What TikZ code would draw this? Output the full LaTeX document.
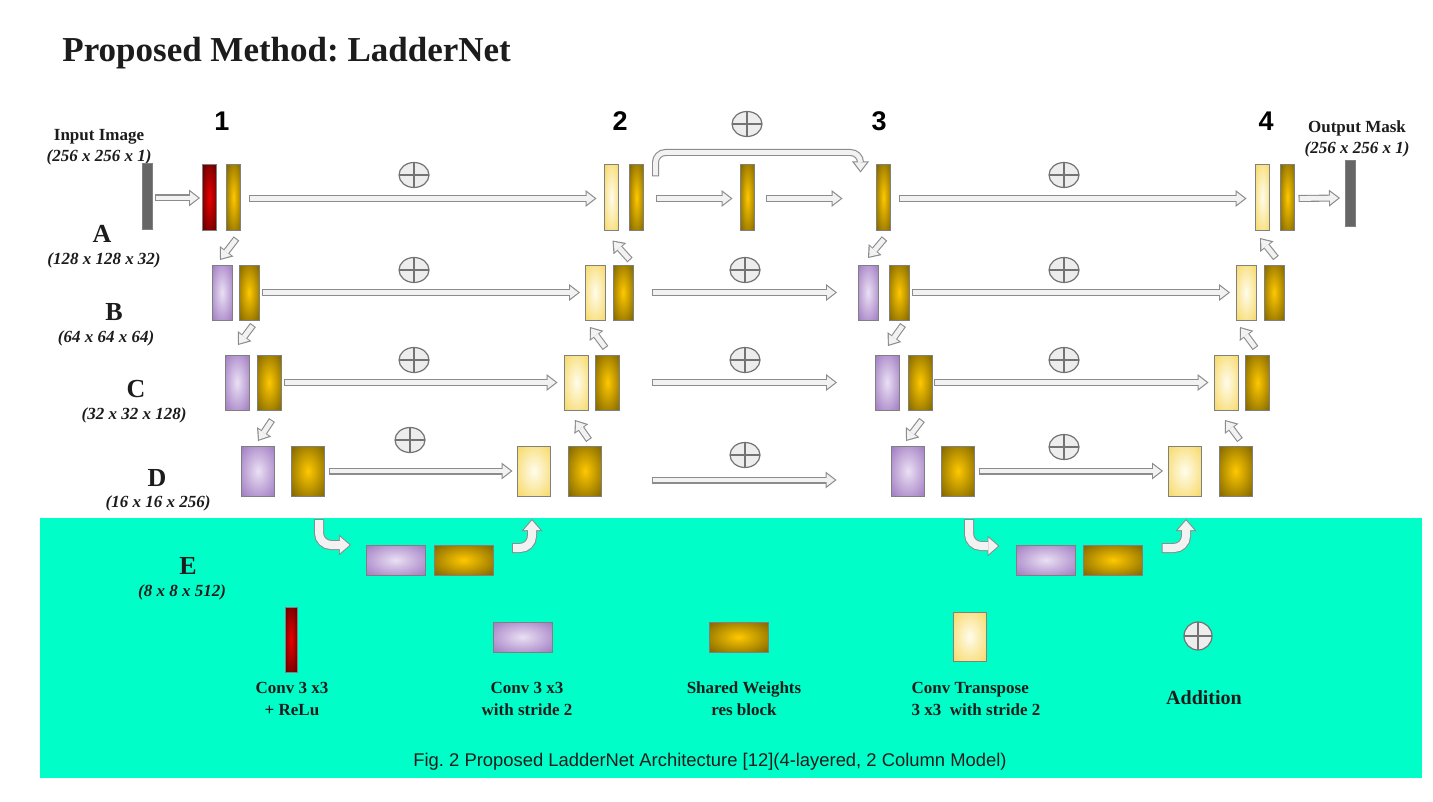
\documentclass[tikz,border=0pt]{standalone}
\usepackage{fontspec}
\setmainfont{Liberation Serif}
\newfontfamily\capfont{Liberation Sans}
\usetikzlibrary{positioning, arrows.meta, shapes.geometric, calc}

\definecolor{goldin}{RGB}{255,200,0}
\definecolor{goldout}{RGB}{118,94,0}
\definecolor{redin}{RGB}{235,0,0}
\definecolor{redout}{RGB}{96,0,0}
\definecolor{lilacin}{RGB}{234,224,244}
\definecolor{lilacout}{RGB}{155,115,190}
\definecolor{creamin}{RGB}{255,252,236}
\definecolor{creamout}{RGB}{246,214,92}
\definecolor{bandteal}{RGB}{0,255,200}
\definecolor{inkgray}{RGB}{28,28,28}

\pgfdeclareradialshading{goldglow}{\pgfpoint{0bp}{0bp}}{color(0bp)=(goldin); color(38bp)=(goldout); color(75bp)=(goldout)}
\pgfdeclareradialshading{redglow}{\pgfpoint{0bp}{0bp}}{color(0bp)=(redin); color(34bp)=(redout); color(75bp)=(redout)}
\pgfdeclareradialshading{lilacglow}{\pgfpoint{0bp}{0bp}}{color(0bp)=(lilacin); color(38bp)=(lilacout); color(75bp)=(lilacout)}
\pgfdeclareradialshading{creamglow}{\pgfpoint{0bp}{0bp}}{color(0bp)=(creamin); color(38bp)=(creamout); color(75bp)=(creamout)}

\begin{document}
\frenchspacing
\begin{tikzpicture}[
        x=0.5pt, y=-0.5pt,
        every node/.style={align=center, text=inkgray},
        blk/.style={draw=black!50, line width=0.5pt, inner sep=0pt, outer sep=0pt},
        convblk/.style={blk, shade, shading=redglow},
        downblk/.style={blk, shade, shading=lilacglow},
        resblk/.style={blk, shade, shading=goldglow},
        upblk/.style={blk, shade, shading=creamglow},
        imgbar/.style={blk, fill=black!60, minimum width=5pt, minimum height=33pt},
        r1/.style={minimum width=7pt, minimum height=33pt},
        rA/.style={minimum width=10pt, minimum height=27.5pt},
        rB/.style={minimum width=12pt, minimum height=27.5pt},
        rC/.style={minimum width=16.5pt, minimum height=25pt},
        rE/.style={minimum width=29.5pt, minimum height=15pt},
        addop/.style={ellipse, draw=black!55, fill=black!7, line width=0.6pt, minimum width=15pt, minimum height=12.5pt, inner sep=0pt,
            path picture={\draw[black!55, line width=0.6pt] (path picture bounding box.north) -- (path picture bounding box.south)
                (path picture bounding box.west) -- (path picture bounding box.east);}},
        flow/.style={draw=black!45, line width=3.5pt, -{Triangle[length=5.5pt, width=8.5pt, line width=0pt]},
            postaction={draw=black!5, line width=2.4pt, shorten >=0.9pt, shorten <=0.55pt, -{Triangle[length=4.1pt, width=6.2pt, line width=0pt]}}},
        bentflow/.style={draw=black!45, line width=5pt, rounded corners=6pt, -{Triangle[length=6pt, width=10.5pt, line width=0pt]},
            postaction={draw=black!5, line width=4pt, shorten >=0.75pt, shorten <=0.5pt, -{Triangle[length=4.8pt, width=8.3pt, line width=0pt]}}},
        title/.style={font=\bfseries\fontsize{17.5}{21}\selectfont, inner sep=0pt},
        colnum/.style={font=\capfont\bfseries\fontsize{13.5}{16}\selectfont, text=black},
        lyr/.style={font=\bfseries\fontsize{13}{15}\selectfont},
        dims/.style={font=\bfseries\itshape\fontsize{8.5}{10}\selectfont},
        ionote/.style={font=\bfseries\fontsize{8.5}{10.5}\selectfont},
        legtxt/.style={font=\bfseries\fontsize{8.5}{11}\selectfont}
    ]

    % page and the lower band
    \useasboundingbox (0,0) rectangle (1433,802);
    \fill[white] (0,0) rectangle (1433,802);
    \fill[bandteal] (40,518) rectangle (1422,778);

    \node[title, anchor=base west] (head) at (62,62) {Proposed Method: LadderNet};

    % column numbers
    \node[colnum] (n1) at (222,121) {1};
    \node[colnum] (n2) at (620,121) {2};
    \node[colnum] (n3) at (879,121) {3};
    \node[colnum] (n4) at (1266,121) {4};

    % input / output
    \node[ionote] (inlbl) at (99,147) {Input Image\\\textit{(256 x 256 x 1)}};
    \node[ionote] (outlbl) at (1357,139) {Output Mask\\\textit{(256 x 256 x 1)}};
    \node[imgbar] (inimg) at (147,197) {};
    \node[imgbar] (outimg) at (1350,194) {};

    % layer names
    \node[lyr] (labA) at (102,234) {A};
    \node[dims] (dimA) at (104,260) {(128 x 128 x 32)};
    \node[lyr] (labB) at (114,312) {B};
    \node[dims] (dimB) at (106,338) {(64 x 64 x 64)};
    \node[lyr] (labC) at (136,389) {C};
    \node[dims] (dimC) at (134,415) {(32 x 32 x 128)};
    \node[lyr] (labD) at (157,478) {D};
    \node[dims] (dimD) at (158,503) {(16 x 16 x 256)};
    \node[lyr] (labE) at (188,566) {E};
    \node[dims] (dimE) at (182,592) {(8 x 8 x 512)};

    % row 1
    \node[convblk, r1] (c1a) at (209.5,197.5) {};
    \node[resblk, r1, right=5pt of c1a] (g1a) {};
    \node[upblk, r1] (y1b) at (611.5,197.5) {};
    \node[resblk, r1, right=5.5pt of y1b] (g1b) {};
    \node[resblk, r1] (g1m) at (747.5,197.5) {};
    \node[resblk, r1] (g1c) at (883.5,197.5) {};
    \node[upblk, r1] (y1d) at (1262.5,197.5) {};
    \node[resblk, r1, right=5.5pt of y1d] (g1d) {};

    % row A
    \node[downblk, rA] (pAa) at (222,292.5) {};
    \node[resblk, rA, right=3.5pt of pAa] (gAa) {};
    \node[upblk, rA] (yAb) at (595,292.5) {};
    \node[resblk, rA, right=4pt of yAb] (gAb) {};
    \node[downblk, rA] (pAc) at (868,292.5) {};
    \node[resblk, rA, right=5.5pt of pAc] (gAc) {};
    \node[upblk, rA] (yAd) at (1246,292.5) {};
    \node[resblk, rA, right=4pt of yAd] (gAd) {};

    % row B
    \node[downblk, rB] (pBa) at (237,382.5) {};
    \node[resblk, rB, right=4pt of pBa] (gBa) {};
    \node[upblk, rB] (yBb) at (576.5,382.5) {};
    \node[resblk, rB, right=3.5pt of yBb] (gBb) {};
    \node[downblk, rB] (pBc) at (887,382.5) {};
    \node[resblk, rB, right=4.5pt of pBc] (gBc) {};
    \node[upblk, rB] (yBd) at (1226.5,382.5) {};
    \node[resblk, rB, right=3.5pt of yBd] (gBd) {};

    % row C
    \node[downblk, rC] (pCa) at (258,471) {};
    \node[resblk, rC, right=8.5pt of pCa] (gCa) {};
    \node[upblk, rC] (yCb) at (534,471) {};
    \node[resblk, rC, right=9pt of yCb] (gCb) {};
    \node[downblk, rC] (pCc) at (908,471) {};
    \node[resblk, rC, right=8.5pt of pCc] (gCc) {};
    \node[upblk, rC] (yCd) at (1184.5,471) {};
    \node[resblk, rC, right=9pt of yCd] (gCd) {};

    % row E
    \node[downblk, rE] (pEa) at (395.5,560) {};
    \node[resblk, rE, right=4.5pt of pEa] (gEa) {};
    \node[downblk, rE] (pEc) at (1046,560) {};
    \node[resblk, rE, right=4pt of pEc] (gEc) {};

    % additions
    \node[addop] (add1a) at (414,175) {};
    \node[addop] (add1m) at (747,124) {};
    \node[addop] (add1c) at (1064,175) {};
    \node[addop] (addAa) at (414,270) {};
    \node[addop] (addAm) at (745,270) {};
    \node[addop] (addAc) at (1064,270) {};
    \node[addop] (addBa) at (414,360) {};
    \node[addop] (addBm) at (745,360) {};
    \node[addop] (addBc) at (1064,360) {};
    \node[addop] (addCa) at (410,440) {};
    \node[addop] (addCm) at (745,455) {};
    \node[addop] (addCc) at (1064,447) {};

    % horizontal links
    \draw[flow] ($(inimg.east)+(3,1)$) -- ($(c1a.west)+(-2.5,0.5)$);
    \draw[flow] ($(g1a.east)+(8,1)$) -- ($(y1b.west)+(-8,1)$);
    \draw[flow] ($(g1b.east)+(12,1)$) -- ($(g1m.west)+(-8,1)$);
    \draw[flow] ($(g1m.east)+(11,1)$) -- ($(g1c.west)+(-34,1)$);
    \draw[flow] ($(g1c.east)+(8,1)$) -- ($(y1d.west)+(-9,1)$);
    \draw[flow] ($(g1d.east)+(4,1)$) -- ($(outimg.west)+(-5,4)$);
    \draw[flow] ($(gAa.east)+(3,0)$) -- ($(yAb.west)+(-5,0)$);
    \draw[flow] ($(gAb.east)+(19,0)$) -- ($(pAc.west)+(-21,0)$);
    \draw[flow] ($(gAc.east)+(3,0)$) -- ($(yAd.west)+(-6,0)$);
    \draw[flow] ($(gBa.east)+(3,0)$) -- ($(yBb.west)+(-7,0)$);
    \draw[flow] ($(gBb.east)+(32,0)$) -- ($(pBc.west)+(-38,0)$);
    \draw[flow] ($(gBc.east)+(2,0)$) -- ($(yBd.west)+(-6,0)$);
    \draw[flow] ($(gCa.east)+(4,0)$) -- ($(yCb.west)+(-5,0)$);
    \draw[flow] ($(gCb.east)+(50,9)$) -- ($(pCc.west)+(-55,9)$);
    \draw[flow] ($(gCc.east)+(4,0)$) -- ($(yCd.west)+(-5,0)$);

    % skip over the top
    \draw[flow, rounded corners=5pt] ($(g1b.north east)+(12,12)$) -- ++(0,-24) -| ($(g1c.north west)+(-16,8)$);

    % going down
    \draw[flow] ($(g1a.south)+(3,8)$) -- ($(pAa.north)+(-2,-5)$);
    \draw[flow] ($(gAa.south)+(4,5)$) -- ($(pBa.north)+(1,-10)$);
    \draw[flow] ($(gBa.south)+(3,10)$) -- ($(pCa.north)+(0,-5)$);
    \draw[flow] ($(g1c.south)+(1,8)$) -- ($(pAc.north)+(0,-7)$);
    \draw[flow] ($(gAc.south)+(4,5)$) -- ($(pBc.north)+(1,-9)$);
    \draw[flow] ($(gBc.south)+(2,10)$) -- ($(pCc.north)+(-2,-5)$);

    % going up
    \draw[flow] ($(gAb.north)+(7,-5)$) -- ($(y1b.south)+(1,10)$);
    \draw[flow] ($(gBb.north)+(-2,-7)$) -- ($(yAb.south)+(-5,7)$);
    \draw[flow] ($(gCb.north)+(4,-6)$) -- ($(yBb.south)+(-1.5,10)$);
    \draw[flow] ($(gAd.north)+(2,-7)$) -- ($(y1d.south)+(-2.5,7.5)$);
    \draw[flow] ($(gBd.north)+(-2,-7)$) -- ($(yAd.south)+(-6,7)$);
    \draw[flow] ($(gCd.north)+(4.5,-6)$) -- ($(yBd.south)+(-1.5,10)$);

    % into and out of the bottom layer
    \coordinate (dropA) at (319,519);
    \coordinate (riseA) at (532,519);
    \coordinate (dropC) at (969,519);
    \coordinate (riseC) at (1186,519);
    \draw[bentflow] (dropA) |- ($(pEa.west)+(-15,-15)$);
    \draw[bentflow] ($(gEa.east)+(19,-12)$) -| (riseA);
    \draw[bentflow] (dropC) |- ($(pEc.west)+(-17,-14)$);
    \draw[bentflow] ($(gEc.east)+(19,-12)$) -| (riseC);

    % legend
    \node[convblk, minimum width=6pt, minimum height=32.5pt] (keyconv) at (291,639.5) {};
    \node[downblk, rE] (keydown) at (522.5,637) {};
    \node[resblk, rE] (keyres) at (738.5,637) {};
    \node[upblk, minimum width=16.5pt, minimum height=24.5pt] (keyup) at (969.5,636.5) {};
    \node[addop, minimum width=14pt, minimum height=14pt] (keyadd) at (1198,636) {};

    \node[legtxt] (txtconv) at (292,699) {Conv 3 x3\\ + ReLu};
    \node[legtxt] (txtdown) at (527,699) {Conv 3 x3\\ with stride 2};
    \node[legtxt] (txtres) at (744,699) {Shared Weights\\ res block};
    \node[legtxt, align=left] (txtup) at (976,699) {Conv Transpose\\3 x3~~with stride 2};
    \node[legtxt, font=\bfseries\fontsize{10}{12}\selectfont] (txtadd) at (1204,698) {Addition};

    \node[font=\capfont\fontsize{9.2}{11}\selectfont, text=inkgray] (fig) at (710,762) {Fig. 2 Proposed LadderNet Architecture [12](4-layered, 2 Column Model)};

\end{tikzpicture}
\end{document}
